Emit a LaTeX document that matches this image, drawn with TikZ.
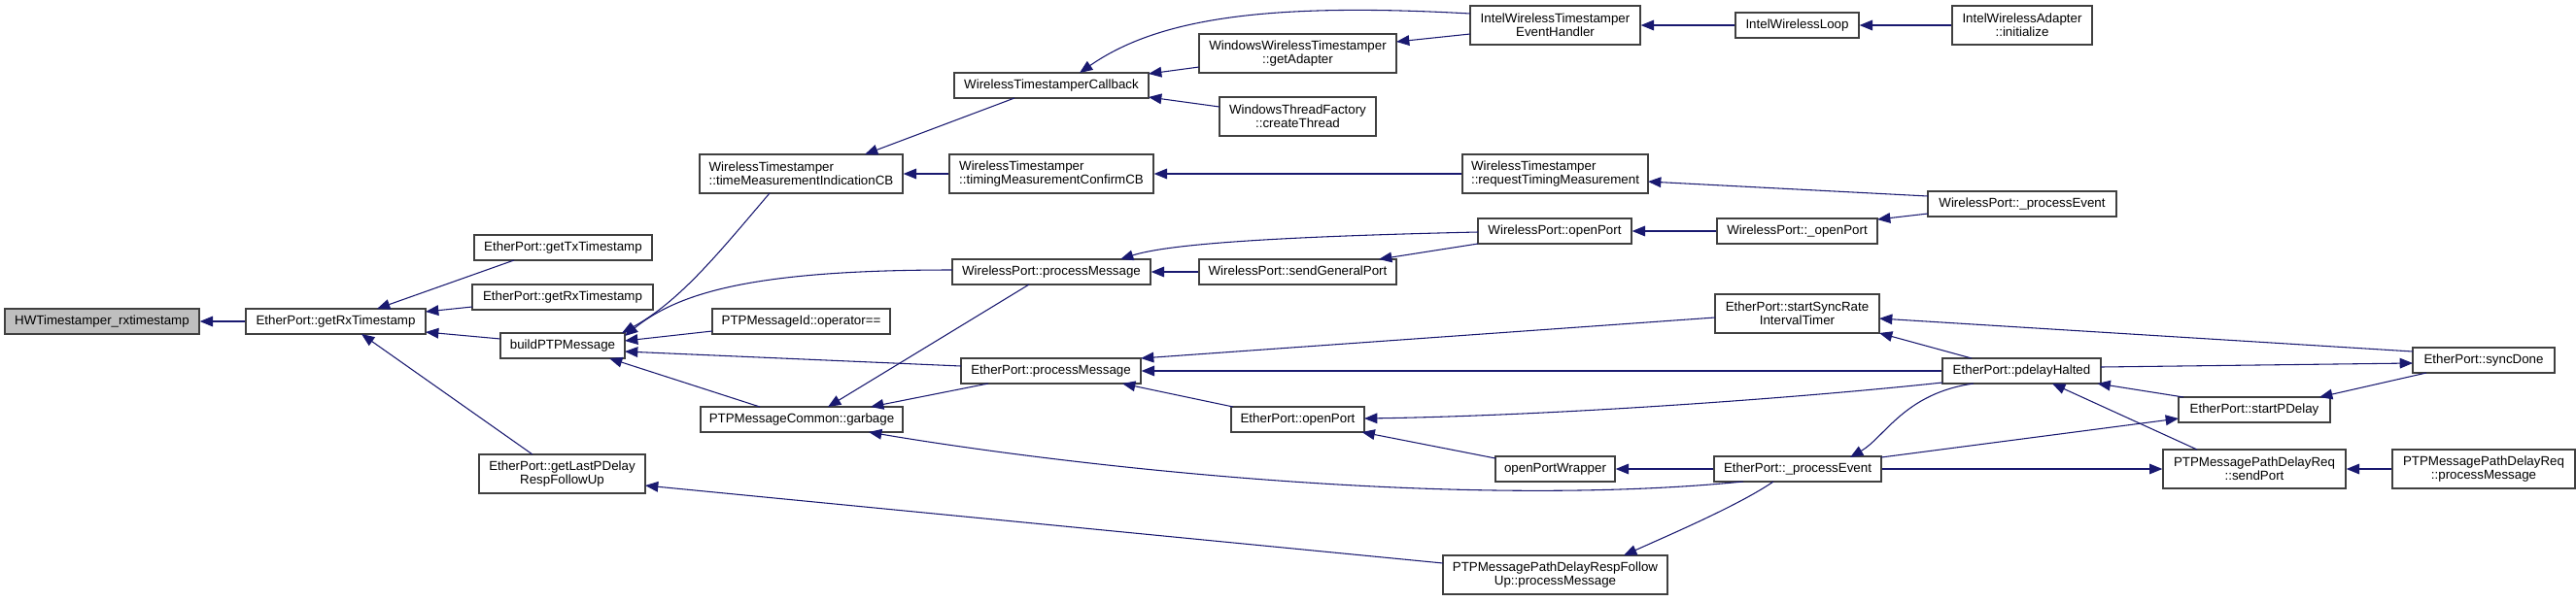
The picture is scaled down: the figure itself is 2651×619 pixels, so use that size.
\documentclass[tikz,border=0pt]{standalone}
\usepackage{fontspec}
\setmainfont{Liberation Sans}
\usetikzlibrary{arrows.meta}
\definecolor{mblue}{HTML}{191970}
\definecolor{bord}{HTML}{404040}
\begin{document}
\begin{tikzpicture}[x=0.75pt,y=-0.75pt,
  box/.style={draw=bord, line width=1pt, fill=white, font=\fontsize{10}{10.5}\selectfont, inner xsep=2pt, inner ysep=0pt, minimum height=19.5pt, text height=7.2pt, text depth=2.2pt},
  box2/.style={draw=bord, line width=1pt, fill=white, font=\fontsize{10}{10.5}\selectfont, inner xsep=2pt, inner ysep=0pt, minimum height=30pt, align=center},
  box2l/.style={box2, align=left},
  cur/.style={fill=black!25},
  edg/.style={draw=mblue, line width=0.8pt, {Triangle[length=10pt,width=8pt]}-},
]
\fill[white] (0,0) rectangle (2651,619);
\useasboundingbox (0,0) rectangle (2651,619);

% column 0
\node[box, cur, minimum width=150pt] (hw) at (105,331) {HWTimestamper\_rxtimestamp};
\node[box, minimum width=138.75pt] (getrxl) at (345.5,331) {EtherPort::getRxTimestamp};
% column 1
\node[box, minimum width=137.25pt] (gettx) at (579.5,255) {EtherPort::getTxTimestamp};
\node[box, minimum width=139.5pt] (getrxr) at (579,306) {EtherPort::getRxTimestamp};
\node[box, minimum width=96pt] (build) at (579,356) {buildPTPMessage};
\node[box2, minimum width=128.25pt] (lastpd) at (578.5,488) {EtherPort::getLastPDelay\\RespFollowUp};
% column 2
\node[box2l, minimum width=156.75pt] (tmind) at (824.5,179) {WirelessTimestamper\\::timeMeasurementIndicationCB};
\node[box, minimum width=137.25pt] (opeq) at (824.5,331) {PTPMessageId::operator==};
\node[box, minimum width=156pt] (garbage) at (825,432) {PTPMessageCommon::garbage};
% column 3
\node[box, minimum width=150pt] (wtcb) at (1082,88) {WirelessTimestamperCallback};
\node[box2l, minimum width=157.5pt] (tmconf) at (1082,179) {WirelessTimestamper\\::timingMeasurementConfirmCB};
\node[box, minimum width=153pt] (wpproc) at (1082,280) {WirelessPort::processMessage};
\node[box, minimum width=138.75pt] (epproc) at (1081.5,382) {EtherPort::processMessage};
% column 4
\node[box2, minimum width=152.25pt] (getadapter) at (1335.5,55) {WindowsWirelessTimestamper\\::getAdapter};
\node[box2, minimum width=120.75pt] (createthread) at (1335.5,120) {WindowsThreadFactory\\::createThread};
\node[box, minimum width=152.25pt] (sendgp) at (1335.5,280) {WirelessPort::sendGeneralPort};
\node[box, minimum width=102.75pt] (epopen) at (1335.5,432) {EtherPort::openPort};
% column 5
\node[box2, minimum width=131.25pt] (iwteh) at (1600.5,26) {IntelWirelessTimestamper\\EventHandler};
\node[box2l, minimum width=143.25pt] (reqtm) at (1600.5,179) {WirelessTimestamper\\::requestTimingMeasurement};
\node[box, minimum width=118.5pt] (wpopen) at (1600,238) {WirelessPort::openPort};
\node[box, minimum width=92.25pt] (opw) at (1600.5,483) {openPortWrapper};
\node[box2, minimum width=173.25pt] (rfu) at (1600.5,592) {PTPMessagePathDelayRespFollow\\Up::processMessage};
% column 6
\node[box, minimum width=95.25pt] (iwloop) at (1849.5,26) {IntelWirelessLoop};
\node[box, minimum width=123.75pt] (wpopenu) at (1849.5,238) {WirelessPort::\_openPort};
\node[box2, minimum width=126.75pt] (ssr) at (1849.5,323) {EtherPort::startSyncRate\\IntervalTimer};
\node[box, minimum width=129pt] (eppe) at (1850,483) {EtherPort::\_processEvent};
% column 7
\node[box2, minimum width=108pt] (iwinit) at (2081,26) {IntelWirelessAdapter\\::initialize};
\node[box, minimum width=145.5pt] (wppe) at (2081,210) {WirelessPort::\_processEvent};
\node[box, minimum width=122.25pt] (pdh) at (2080.5,382) {EtherPort::pdelayHalted};
% column 8
\node[box, minimum width=117pt] (spd) at (2320,422) {EtherPort::startPDelay};
\node[box2, minimum width=141pt] (sendport) at (2320,483) {PTPMessagePathDelayReq\\::sendPort};
% column 9
\node[box, minimum width=109.5pt] (syncd) at (2556,371) {EtherPort::syncDone};
\node[box2, minimum width=141pt] (reqpm) at (2556,483) {PTPMessagePathDelayReq\\::processMessage};

% edges (arrow at the callee)
\draw[edg] (hw.east) -- (getrxl.west);
\draw[edg] ([shift={(42.5,-13)}]getrxl.center) -- ([shift={(-50.5,13)}]gettx.center);
\draw[edg] ([shift={(92.5,-10)}]getrxl.center) -- ([shift={(-93,10)}]getrxr.center);
\draw[edg] ([shift={(92.5,11)}]getrxl.center) -- ([shift={(-64,-7)}]build.center);
\draw[edg] ([shift={(26.5,13)}]getrxl.center) -- ([shift={(-30.5,-20)}]lastpd.center);
\draw[edg] ([shift={(61,-13)}]build.center) .. controls (700,310) and (740,260) .. ([shift={(-32.5,20)}]tmind.center);
\draw[edg] ([shift={(64,-10)}]build.center) .. controls (700,300) and (780,278) .. ([shift={(-102,-2)}]wpproc.center);
\draw[edg] ([shift={(64,-5)}]build.center) -- ([shift={(-91.5,10)}]opeq.center);
\draw[edg] ([shift={(64,6)}]build.center) -- ([shift={(-92.5,-5)}]epproc.center);
\draw[edg] ([shift={(48,13)}]build.center) -- ([shift={(-43,-13)}]garbage.center);
\draw[edg] ([shift={(65.5,-20)}]tmind.center) -- ([shift={(-38,13)}]wtcb.center);
\draw[edg] (tmind.east) -- (tmconf.west);
\draw[edg] ([shift={(29,-13)}]wtcb.center) .. controls (1190,20) and (1300,2) .. ([shift={(-87.5,-12)}]iwteh.center);
\draw[edg] ([shift={(100,-12)}]wtcb.center) -- ([shift={(-101.5,14)}]getadapter.center);
\draw[edg] ([shift={(100,12)}]wtcb.center) -- ([shift={(-80.5,-10)}]createthread.center);
\draw[edg] ([shift={(101.5,-12)}]getadapter.center) -- ([shift={(-87.5,9)}]iwteh.center);
\draw[edg] (tmconf.east) -- (reqtm.west);
\draw[edg] (iwteh.east) -- (iwloop.west);
\draw[edg] (iwloop.east) -- (iwinit.west);
\draw[edg] ([shift={(95.5,8)}]reqtm.center) -- ([shift={(-97,-8)}]wppe.center);
\draw[edg] (wpproc.east) -- (sendgp.west);
\draw[edg] ([shift={(71,-13)}]wpproc.center) .. controls (1200,252) and (1300,244) .. ([shift={(-79,1)}]wpopen.center);
\draw[edg] ([shift={(83.5,-13)}]sendgp.center) -- ([shift={(-79,13)}]wpopen.center);
\draw[edg] (wpopen.east) -- (wpopenu.west);
\draw[edg] ([shift={(82.5,-12)}]wpopenu.center) -- ([shift={(-97,10)}]wppe.center);
\draw[edg] ([shift={(92.5,-13)}]epproc.center) -- ([shift={(-84.5,4)}]ssr.center);
\draw[edg] (epproc.east) -- (pdh.west);
\draw[edg] ([shift={(73.5,13)}]epproc.center) -- ([shift={(-66.5,-13)}]epopen.center);
\draw[edg] ([shift={(27,-13)}]garbage.center) -- ([shift={(-23,13)}]wpproc.center);
\draw[edg] ([shift={(71,-13)}]garbage.center) -- ([shift={(-64.5,13)}]epproc.center);
\draw[edg] ([shift={(69,13)}]garbage.center) .. controls (1100,480) and (1500,525) .. ([shift={(-56,13)}]eppe.center);
\draw[edg] ([shift={(68.5,-1)}]epopen.center) .. controls (1600,428) and (1850,410) .. ([shift={(-81.5,12)}]pdh.center);
\draw[edg] ([shift={(66,13)}]epopen.center) -- ([shift={(-61.5,-11)}]opw.center);
\draw[edg] (opw.east) -- (eppe.west);
\draw[edg] ([shift={(85.5,12)}]lastpd.center) -- ([shift={(-115.5,-12)}]rfu.center);
\draw[edg] ([shift={(70.5,-20)}]rfu.center) .. controls (1720,550) and (1790,520) .. ([shift={(-25,13)}]eppe.center);
\draw[edg] ([shift={(84.5,20)}]ssr.center) -- ([shift={(-51.5,-13)}]pdh.center);
\draw[edg] ([shift={(84.5,5)}]ssr.center) -- ([shift={(-73,-9)}]syncd.center);
\draw[edg] ([shift={(54,-12)}]eppe.center) .. controls (1940,450) and (1960,405) .. ([shift={(-49.5,13)}]pdh.center);
\draw[edg] ([shift={(-73,3)}]syncd.center) -- ([shift={(81.5,-4)}]pdh.center);
\draw[edg] ([shift={(67,-13)}]spd.center) -- ([shift={(-59,13)}]syncd.center);
\draw[edg] ([shift={(78,13)}]pdh.center) -- ([shift={(-73,-13)}]spd.center);
\draw[edg] ([shift={(-78,9)}]spd.center) -- ([shift={(86,-12)}]eppe.center);
\draw[edg] ([shift={(31.5,13)}]pdh.center) -- ([shift={(-59,-20)}]sendport.center);
\draw[edg] (sendport.west) -- (eppe.east);
\draw[edg] (sendport.east) -- (reqpm.west);
\end{tikzpicture}
\end{document}
